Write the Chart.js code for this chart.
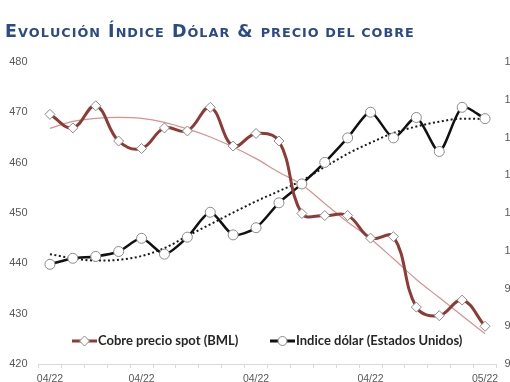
<!DOCTYPE html>
<html>
<head>
<meta charset="utf-8">
<script src="https://cdn.jsdelivr.net/npm/chart.js@4.4.0/dist/chart.umd.min.js"></script>
<style>
  html, body { margin: 0; padding: 0; background: #ffffff; overflow: hidden; }
  #wrap { position: relative; width: 510px; height: 382px; overflow: hidden; background: #fff; }
  canvas { position: absolute; left: 0; top: 0; }
</style>
</head>
<body>
<div id="wrap">
  <canvas id="c" width="540" height="392"></canvas>
</div>
<script>
// ---- data ----
const tickLabels = ['04/22','','','','04/22','','','','','04/22','','','','','04/22','','','','','05/22'];
const copperSpot = [469.6, 466.9, 471.3, 464.3, 462.8, 466.9, 466.3, 471.0, 463.3, 465.8,
                    464.3, 449.9, 449.5, 449.5, 445.0, 445.3, 431.3, 429.6, 432.7, 427.5];
const dollarIndex = [99.64, 99.80, 99.85, 99.98, 100.33, 99.91, 100.36, 101.02, 100.42, 100.61,
                     101.27, 101.77, 102.34, 102.99, 103.67, 102.99, 103.53, 102.63, 103.80, 103.50];
const copperTrend = [466.8, 468.2, 468.8, 469.0, 468.8, 468.0, 466.7, 465.1, 463.1, 460.8,
                     458.1, 455.6, 451.9, 448.2, 444.9, 440.9, 436.8, 433.2, 429.6, 426.0];
const dollarTrend = [99.91, 99.80, 99.74, 99.76, 99.86, 100.07, 100.39, 100.70, 101.01, 101.31,
                     101.58, 101.86, 102.22, 102.57, 102.86, 103.12, 103.29, 103.42, 103.50, 103.49];
const seriesNames = ['Cobre precio spot (BML)', 'Indice dólar (Estados Unidos)'];
// title in small caps: [text, isLargeCap]
const titleParts = [['E', 1], ['VOLUCIÓN', 0], [' Í', 1], ['NDICE', 0], [' D', 1], ['ÓLAR', 0],
                    [' & ', 1], ['PRECIO DEL COBRE', 0]];

const tickFont = { family: '"Liberation Sans", Arial, sans-serif', size: 11 };
const tickColor = '#595959';

const smallCapsTitle = {
  id: 'smallCapsTitle',
  afterDraw(chart) {
    const ctx = chart.ctx;
    ctx.save();
    ctx.fillStyle = '#2A4A8A';
    ctx.textBaseline = 'alphabetic';
    ctx.textAlign = 'left';
    let x = 5;
    const y = 37;
    const spacing = 1.0;
    titleParts.forEach(([t, big]) => {
      ctx.font = 'bold ' + (big ? 17.5 : 12.8) + 'px "DejaVu Sans", sans-serif';
      for (const ch of t) {
        ctx.fillText(ch, x, y);
        x += ctx.measureText(ch).width + spacing;
      }
    });
    ctx.restore();
  }
};

// legend drawn inside the plot area, like the original
const inlineLegend = {
  id: 'inlineLegend',
  afterDraw(chart) {
    const ctx = chart.ctx;
    const items = [
      { ds: chart.data.datasets[0], x: 72 },
      { ds: chart.data.datasets[1], x: 270 }
    ];
    const y = 341;
    ctx.save();
    items.forEach(it => {
      ctx.strokeStyle = it.ds.borderColor;
      ctx.lineWidth = 3;
      ctx.beginPath();
      ctx.moveTo(it.x, y);
      ctx.lineTo(it.x + 25, y);
      ctx.stroke();
      ctx.fillStyle = '#ffffff';
      ctx.strokeStyle = '#8a8a8a';
      ctx.lineWidth = 1;
      const cx = it.x + 12.5;
      ctx.beginPath();
      if (it.ds.pointStyle === 'rectRot') {
        ctx.moveTo(cx, y - 5); ctx.lineTo(cx + 5, y); ctx.lineTo(cx, y + 5); ctx.lineTo(cx - 5, y); ctx.closePath();
      } else {
        ctx.arc(cx, y, 4.5, 0, Math.PI * 2);
      }
      ctx.fill(); ctx.stroke();
      ctx.fillStyle = '#262626';
      ctx.font = 'bold 13px Lato, "Open Sans", sans-serif';
      ctx.textBaseline = 'middle';
      ctx.textAlign = 'left';
      ctx.fillText(it.ds.label, it.x + 26, y);
    });
    ctx.restore();
  }
};

new Chart(document.getElementById('c'), {
  type: 'line',
  data: {
    labels: tickLabels,
    datasets: [
      {
        label: seriesNames[0], data: copperSpot, yAxisID: 'y',
        borderColor: '#8E3B36', borderWidth: 3, tension: 0.4,
        pointStyle: 'rectRot', pointRadius: 5, pointBackgroundColor: '#ffffff',
        pointBorderColor: '#8a8a8a', pointBorderWidth: 1, order: 1
      },
      {
        label: seriesNames[1], data: dollarIndex, yAxisID: 'y2',
        borderColor: '#111111', borderWidth: 2.5, tension: 0.25,
        pointStyle: 'circle', pointRadius: 5, pointBackgroundColor: '#ffffff',
        pointBorderColor: '#8a8a8a', pointBorderWidth: 1, order: 1
      },
      {
        label: 'trend cobre', data: copperTrend, yAxisID: 'y',
        borderColor: 'rgba(200,110,105,0.75)', borderWidth: 1.2,
        cubicInterpolationMode: 'monotone', pointRadius: 0, order: 2
      },
      {
        label: 'trend dólar', data: dollarTrend, yAxisID: 'y2',
        borderColor: '#1a1a1a', borderWidth: 2, borderDash: [2, 2.5],
        cubicInterpolationMode: 'monotone', pointRadius: 0, order: 2
      }
    ]
  },
  options: {
    responsive: false,
    animation: false,
    layout: { padding: { top: 62, left: 0, right: 0, bottom: 0 } },
    plugins: { legend: { display: false }, title: { display: false }, tooltip: { enabled: false } },
    scales: {
      x: {
        type: 'category', offset: true,
        grid: { offset: true, drawOnChartArea: false, drawTicks: true, tickLength: 4, color: '#d9d9d9' },
        border: { display: true, color: '#d9d9d9' },
        ticks: { autoSkip: false, maxRotation: 0, minRotation: 0, padding: 5, color: tickColor,
                 font: { family: '"Liberation Sans", Arial, sans-serif', size: 10.5 } },
        afterFit: s => { s.height = 28; }
      },
      y: {
        position: 'left', min: 420, max: 480,
        grid: { display: false, drawTicks: false }, border: { display: false },
        ticks: { stepSize: 10, padding: 11, color: tickColor, font: tickFont },
        afterFit: s => { s.width = 38.5; }
      },
      y2: {
        position: 'right', min: 97, max: 105,
        grid: { display: false, drawTicks: false }, border: { display: false },
        ticks: { stepSize: 1, padding: 8, color: tickColor, font: tickFont },
        afterFit: s => { s.width = 43.5; }
      }
    }
  },
  plugins: [inlineLegend, smallCapsTitle]
});
</script>
</body>
</html>
